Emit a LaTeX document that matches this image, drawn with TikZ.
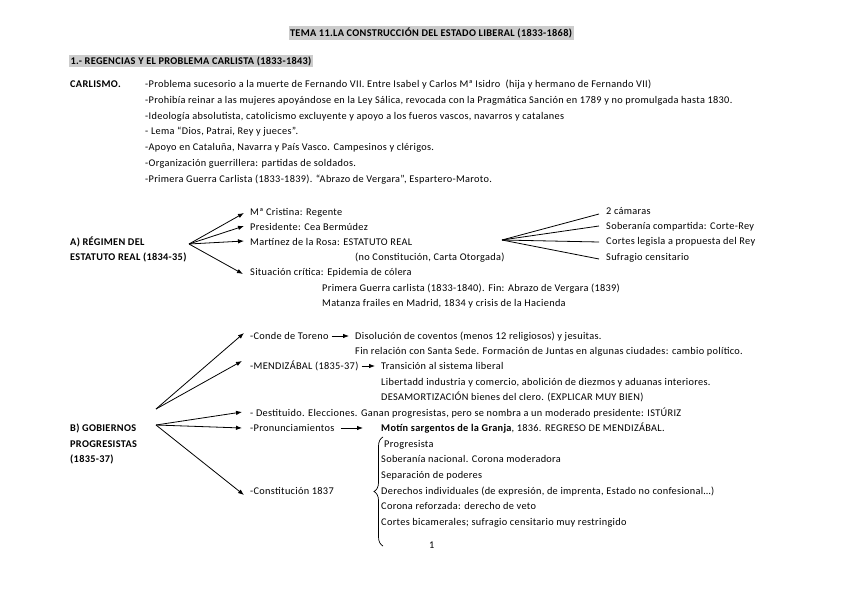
\documentclass[tikz,border=0pt]{standalone}
\usepackage{fontspec}
\setmainfont{Carlito}[LetterSpace=3.1]
\usetikzlibrary{arrows.meta,decorations.pathreplacing}
\begin{document}
\begin{tikzpicture}[x=1pt,y=-1pt,
  t/.style={anchor=west,inner sep=0pt,text height=7pt,text depth=1pt,font=\fontsize{10.3}{12}\selectfont},
  tb/.style={t,font=\fontsize{10.3}{12}\selectfont\bfseries},
  hl/.style={inner sep=1.5pt,fill=black!20,font=\fontsize{10.3}{12}\selectfont\bfseries},
  arr/.style={-{Latex[length=6pt,width=4.5pt]},line width=0.8pt},
  fan/.style={line width=0.8pt}]
\useasboundingbox (0,0) rectangle (848,599);
% titles
\node[hl] (title) at (431,33) {TEMA 11.LA CONSTRUCCIÓN DEL ESTADO LIBERAL (1833-1868)};
\node[hl,anchor=west] (sec1) at (69,61) {1.- REGENCIAS Y EL PROBLEMA CARLISTA (1833-1843)};
% Carlismo
\node[tb] (carl) at (70,85) {CARLISMO.};
\node[t] (c1) at (145,85) {-Problema sucesorio a la muerte de Fernando VII. Entre Isabel y Carlos Mª Isidro\ \ (hija y hermano de Fernando VII)};
\node[t] (c2) at (145,101) {-Prohibía reinar a las mujeres apoyándose en la Ley Sálica, revocada con la Pragmática Sanción en 1789 y no promulgada hasta 1830.};
\node[t] (c3) at (145,117) {-Ideología absolutista, catolicismo excluyente y apoyo a los fueros vascos, navarros y catalanes};
\node[t] (c4) at (145,132) {- Lema “Dios, Patrai, Rey y jueces”.};
\node[t] (c5) at (145,147) {-Apoyo en Cataluña, Navarra y País Vasco. Campesinos y clérigos.};
\node[t] (c6) at (145,163) {-Organización guerrillera: partidas de soldados.};
\node[t] (c7) at (145,179) {-Primera Guerra Carlista (1833-1839). “Abrazo de Vergara”, Espartero-Maroto.};
% A
\node[tb] (a1) at (70,242) {A) RÉGIMEN DEL};
\node[tb] (a2) at (70,257) {ESTATUTO REAL (1834-35)};
\coordinate (aapex) at (189,244);
\node[t] (am) at (250,212) {Mª Cristina: Regente};
\node[t] (ap) at (250,227) {Presidente: Cea Bermúdez};
\node[t] (ar) at (250,242) {Martínez de la Rosa: ESTATUTO REAL};
\node[t] (ac) at (355,257) {(no Constitución, Carta Otorgada)};
\node[t] (as) at (250,272) {Situación crítica: Epidemia de cólera};
\node[t] (ag) at (322,288) {Primera Guerra carlista (1833-1840). Fin: Abrazo de Vergara (1839)};
\node[t] (af) at (322,303) {Matanza frailes en Madrid, 1834 y crisis de la Hacienda};
\draw[arr] (aapex) -- ([xshift=-6pt,yshift=-1pt]am.west);
\draw[arr] (aapex) -- ([xshift=-6pt,yshift=1pt]ap.west);
\draw[arr] (aapex) -- ([xshift=-6pt,yshift=1pt]ar.west);
\draw[arr] (aapex) -- ([xshift=-7pt,yshift=-2pt]as.west);
\coordinate (rapex) at (502,240);
\node[t] (r1) at (606,211) {2 cámaras};
\node[t] (r2) at (606,226) {Soberanía compartida: Corte-Rey};
\node[t] (r3) at (606,241) {Cortes legisla a propuesta del Rey};
\node[t] (r4) at (606,257) {Sufragio censitario};
\draw[fan] (rapex) -- ([xshift=-7pt,yshift=-3pt]r1.west);
\draw[fan] (rapex) -- ([xshift=-7pt]r2.west);
\draw[fan] (rapex) -- ([xshift=-7pt,yshift=-1pt]r3.west);
\draw[fan] (rapex) -- ([xshift=-7pt,yshift=-2pt]r4.west);
% B
\node[tb] (b1) at (70,428) {B) GOBIERNOS};
\node[tb] (b2) at (70,444) {PROGRESISTAS};
\node[tb] (b3) at (70,459) {(1835-37)};
\coordinate (bapex1) at (156,409);
\coordinate (bapex2) at (156,425);
\node[t] (bt) at (250,336) {-Conde de Toreno};
\node[t] (bt1) at (355,336) {Disolución de coventos (menos 12 religiosos) y jesuitas.};
\node[t] (bt2) at (355,351) {Fin relación con Santa Sede. Formación de Juntas en algunas ciudades: cambio político.};
\node[t] (bm) at (250,366) {-MENDIZÁBAL (1835-37)};
\node[t] (bm1) at (381,366) {Transición al sistema liberal};
\node[t] (bm2) at (381,382) {Libertadd industria y comercio, abolición de diezmos y aduanas interiores.};
\node[t] (bm3) at (381,397) {DESAMORTIZACIÓN bienes del clero. (EXPLICAR MUY BIEN)};
\node[t] (bd) at (250,413) {- Destituido. Elecciones. Ganan progresistas, pero se nombra a un moderado presidente: ISTÚRIZ};
\node[t] (bp) at (250,428) {-Pronunciamientos};
\node[t] (bp1) at (381,428) {\textbf{Motín sargentos de la Granja}, 1836. REGRESO DE MENDIZÁBAL.};
\node[t] (bc) at (250,491) {-Constitución 1837};
\node[t] (k1) at (384,444) {Progresista};
\node[t] (k2) at (381,459) {Soberanía nacional. Corona moderadora};
\node[t] (k3) at (381,475) {Separación de poderes};
\node[t] (k4) at (381,491) {Derechos individuales (de expresión, de imprenta, Estado no confesional…)};
\node[t] (k5) at (381,506) {Corona reforzada: derecho de veto};
\node[t] (k6) at (381,522) {Cortes bicamerales; sufragio censitario muy restringido};
\node[t] (pg) at (429,545) {1};
\draw[arr] (bapex1) -- ([xshift=-6pt,yshift=3pt]bt.west);
\draw[arr] (bapex1) -- ([xshift=-8pt,yshift=5pt]bm.west);
\draw[arr] (bapex2) -- ([xshift=-8pt,yshift=1pt]bd.west);
\draw[arr] (bapex2) -- ([xshift=-8pt]bp.west);
\draw[arr] (bapex2) -- ([xshift=-6pt,yshift=-4pt]bc.west);
\draw[arr] ([xshift=3pt]bt.east) -- ([xshift=-6pt]bt1.west);
\draw[arr] ([xshift=3pt]bm.east) -- ([xshift=-6pt]bm1.west);
\draw[arr] ([xshift=6pt]bp.east) -- ([xshift=-18pt]bp1.west);
\coordinate (brb) at (383,546);
\coordinate (brt) at (383,437);
\draw[line width=0.7pt,decorate,decoration={brace,amplitude=9pt}] (brb) -- (brt);
\end{tikzpicture}
\end{document}
